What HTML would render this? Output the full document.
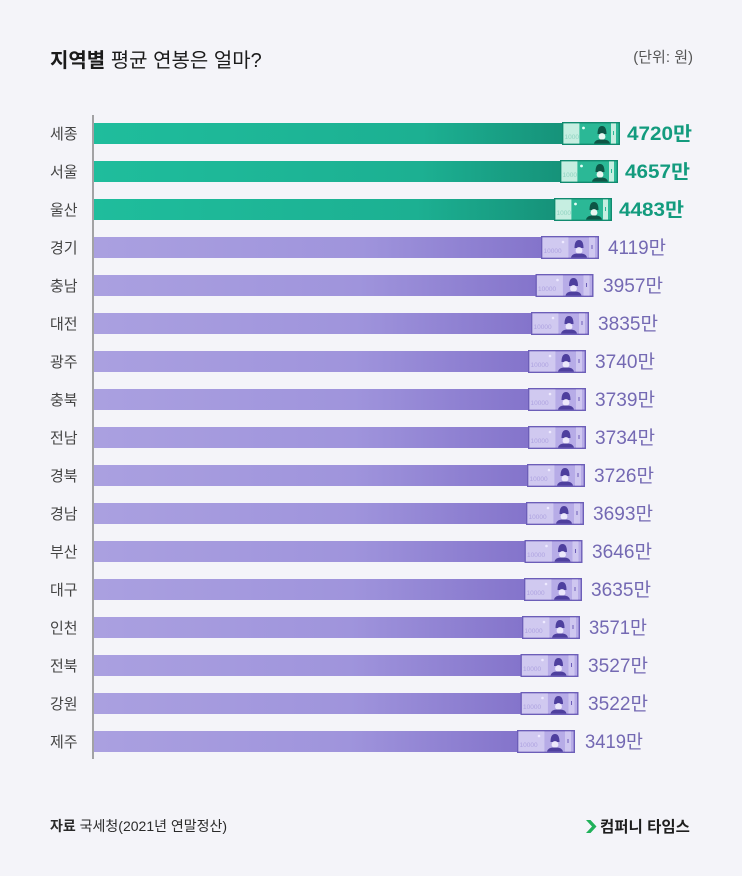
<!DOCTYPE html>
<html><head><meta charset="utf-8">
<style>
html,body{margin:0;padding:0;background:#f4f4f9;}
svg{display:block;}
text{font-family:"Liberation Sans","Noto Sans CJK KR",sans-serif;}
</style></head>
<body>
<svg width="742" height="876" viewBox="0 0 742 876" xmlns="http://www.w3.org/2000/svg">
<defs>
<linearGradient id="gg" x1="0" x2="1" y1="0" y2="0">
<stop offset="0" stop-color="#1fbd9c"/><stop offset="0.7" stop-color="#1cb092"/><stop offset="1" stop-color="#16937a"/>
</linearGradient>
<linearGradient id="pg" x1="0" x2="1" y1="0" y2="0">
<stop offset="0" stop-color="#aaa0e0"/><stop offset="0.6" stop-color="#9f94dc"/><stop offset="1" stop-color="#8474cb"/>
</linearGradient>
<g id="gn">
<rect x="0.7" y="0.7" width="56.6" height="21.6" fill="#2bb896" stroke="#118a6f" stroke-width="1.4"/>
<rect x="1.4" y="1.4" width="16" height="20.2" fill="#c6eee1"/>
<text x="2.5" y="17" font-size="6.5" fill="#8fd3c0">1000</text>
<circle cx="21.5" cy="6" r="1.4" fill="#e6fff7"/>
<path d="M35.5 12 Q35.5 4 40 4 Q44.5 4 44.5 12 Z" fill="#0e5646"/>
<ellipse cx="40" cy="14.5" rx="3.4" ry="3.4" fill="#e9f7f1"/>
<path d="M32 21.6 Q33 17 40 17.5 Q47 17 48 21.6 Z" fill="#0e5646"/>
<rect x="49" y="1.4" width="5" height="20.2" fill="#c6eee1"/>
<rect x="51" y="9" width="1" height="4" fill="#2bb896"/>
</g>
<g id="pn">
<rect x="0.7" y="0.7" width="56.6" height="21.6" fill="#b7ace7" stroke="#6c5eb8" stroke-width="1.4"/>
<rect x="1.4" y="1.4" width="26" height="20.2" fill="#d0c9f0"/>
<text x="2.5" y="17" font-size="6.5" fill="#aea3e0">10000</text>
<circle cx="22" cy="6" r="1.3" fill="#eeeaff"/>
<path d="M33.5 12 Q33.5 4 38 4 Q42.5 4 42.5 12 Z" fill="#4e3f9e"/>
<ellipse cx="38" cy="14.5" rx="3.4" ry="3.4" fill="#ece8fb"/>
<path d="M30 21.6 Q31 17 38 17.5 Q45 17 46 21.6 Z" fill="#4e3f9e"/>
<rect x="48" y="1.4" width="6" height="20.2" fill="#cfc7f0"/>
<rect x="50.5" y="9" width="1" height="4" fill="#6c5eb8"/>
</g>
</defs>

<rect width="742" height="876" fill="#f4f4f9"/>

<text x="50" y="67" font-size="20" fill="#1b1b1b"><tspan font-weight="bold">지역별</tspan> 평균 연봉은 얼마?</text>
<text x="693" y="62" font-size="15" fill="#555" text-anchor="end">(단위: 원)</text>

<line x1="93" y1="115" x2="93" y2="759" stroke="#777" stroke-width="1.3"/>

<!-- green rows -->
<g>
<rect x="94" y="123" width="468" height="21" fill="url(#gg)"/><use href="#gn" x="562" y="122"/>
<text x="50" y="139" font-size="15" fill="#444">세종</text>
<text x="627" y="140" font-size="19" font-weight="bold" fill="#139b7e" textLength="65" lengthAdjust="spacingAndGlyphs">4720만</text>

<rect x="94" y="161" width="466" height="21" fill="url(#gg)"/><use href="#gn" x="560" y="160"/>
<text x="50" y="177" font-size="15" fill="#444">서울</text>
<text x="625" y="178" font-size="19" font-weight="bold" fill="#139b7e" textLength="65" lengthAdjust="spacingAndGlyphs">4657만</text>

<rect x="94" y="199" width="460" height="21" fill="url(#gg)"/><use href="#gn" x="554" y="198"/>
<text x="50" y="215" font-size="15" fill="#444">울산</text>
<text x="619" y="216" font-size="19" font-weight="bold" fill="#139b7e" textLength="65" lengthAdjust="spacingAndGlyphs">4483만</text>
</g>

<!-- purple rows -->
<g font-size="15" fill="#444">
<rect x="94" y="237" width="447" height="21" fill="url(#pg)"/><use href="#pn" x="541" y="236"/>
<text x="50" y="253">경기</text>
<rect x="94" y="275" width="442" height="21" fill="url(#pg)"/><use href="#pn" x="535.5" y="274"/>
<text x="50" y="291">충남</text>
<rect x="94" y="313" width="437" height="21" fill="url(#pg)"/><use href="#pn" x="531" y="312"/>
<text x="50" y="329">대전</text>
<rect x="94" y="351" width="434" height="21" fill="url(#pg)"/><use href="#pn" x="528" y="350"/>
<text x="50" y="367">광주</text>
<rect x="94" y="389" width="434" height="21" fill="url(#pg)"/><use href="#pn" x="528" y="388"/>
<text x="50" y="405">충북</text>
<rect x="94" y="427" width="434" height="21" fill="url(#pg)"/><use href="#pn" x="528" y="426"/>
<text x="50" y="443">전남</text>
<rect x="94" y="465" width="433" height="21" fill="url(#pg)"/><use href="#pn" x="527" y="464"/>
<text x="50" y="481">경북</text>
<rect x="94" y="503" width="432" height="21" fill="url(#pg)"/><use href="#pn" x="526" y="502"/>
<text x="50" y="519">경남</text>
<rect x="94" y="541" width="431" height="21" fill="url(#pg)"/><use href="#pn" x="524.5" y="540"/>
<text x="50" y="557">부산</text>
<rect x="94" y="579" width="430" height="21" fill="url(#pg)"/><use href="#pn" x="524" y="578"/>
<text x="50" y="595">대구</text>
<rect x="94" y="617" width="428" height="21" fill="url(#pg)"/><use href="#pn" x="522" y="616"/>
<text x="50" y="633">인천</text>
<rect x="94" y="655" width="427" height="21" fill="url(#pg)"/><use href="#pn" x="520.5" y="654"/>
<text x="50" y="671">전북</text>
<rect x="94" y="693" width="427" height="21" fill="url(#pg)"/><use href="#pn" x="520.5" y="692"/>
<text x="50" y="709">강원</text>
<rect x="94" y="731" width="424" height="21" fill="url(#pg)"/><use href="#pn" x="517" y="730"/>
<text x="50" y="747">제주</text>
</g>

<g font-size="19" fill="#7469b3">
<text x="608" y="254" textLength="58" lengthAdjust="spacingAndGlyphs">4119만</text>
<text x="603" y="292" textLength="60" lengthAdjust="spacingAndGlyphs">3957만</text>
<text x="598" y="330" textLength="60" lengthAdjust="spacingAndGlyphs">3835만</text>
<text x="595" y="368" textLength="60" lengthAdjust="spacingAndGlyphs">3740만</text>
<text x="595" y="406" textLength="60" lengthAdjust="spacingAndGlyphs">3739만</text>
<text x="595" y="444" textLength="60" lengthAdjust="spacingAndGlyphs">3734만</text>
<text x="594" y="482" textLength="60" lengthAdjust="spacingAndGlyphs">3726만</text>
<text x="593" y="520" textLength="60" lengthAdjust="spacingAndGlyphs">3693만</text>
<text x="592" y="558" textLength="60" lengthAdjust="spacingAndGlyphs">3646만</text>
<text x="591" y="596" textLength="60" lengthAdjust="spacingAndGlyphs">3635만</text>
<text x="589" y="634" textLength="58" lengthAdjust="spacingAndGlyphs">3571만</text>
<text x="588" y="672" textLength="60" lengthAdjust="spacingAndGlyphs">3527만</text>
<text x="588" y="710" textLength="60" lengthAdjust="spacingAndGlyphs">3522만</text>
<text x="585" y="748" textLength="58" lengthAdjust="spacingAndGlyphs">3419만</text>
</g>

<text x="50" y="831" font-size="14" fill="#2a2a2a"><tspan font-weight="bold">자료</tspan> 국세청(2021년 연말정산)</text>

<path d="M586 820 L590.5 820 L596.5 826.5 L590.5 833 L586 833 L592 826.5 Z" fill="#20b15a"/>
<text x="600" y="832" font-size="15.5" font-weight="bold" fill="#1e1e1e">컴퍼니 타임스</text>
</svg>
</body></html>
